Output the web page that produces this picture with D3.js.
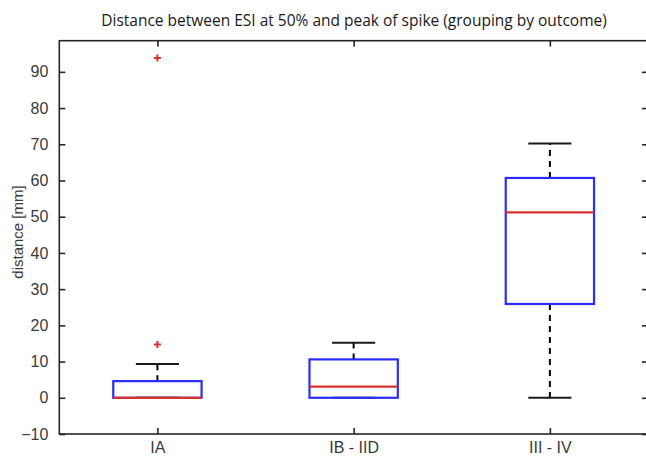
<!DOCTYPE html>
<html><head><meta charset="utf-8">
<script src="https://cdn.jsdelivr.net/npm/d3@7"></script>
<style>body{margin:0;background:#fff}svg{display:block}</style>
</head><body>
<svg id="c" width="646" height="457"></svg>
<script>
const categories = ["IA", "IB - IID", "III - IV"];
const q1 = [0, 0, 25.9];
const medians = [0, 3.1, 51.2];
const q3 = [4.6, 10.6, 60.7];
const whiskerLow = [0, 0, 0];
const whiskerHigh = [9.3, 15.2, 70.2];
const outliers = [[14.7, 93.8], [], []];
const yTicks = [-10, 0, 10, 20, 30, 40, 50, 60, 70, 80, 90];
const title = "Distance between ESI at 50% and peak of spike (grouping by outcome)";
const yLabel = "distance [mm]";

(function () {
const svg = d3.select("#c");
const L = 59.3, R = 648, T = 40.7, B = 434;
const x = d3.scaleLinear().domain([0.5, 3.5]).range([L, R]);
const y = d3.scaleLinear().domain([-10, 98.6]).range([B, T]);
const axisColor = "#262626";
const font = "'Liberation Sans', Arial, sans-serif";

svg.append("rect").attr("x", L).attr("y", T).attr("width", R - L).attr("height", B - T)
  .attr("fill", "none").attr("stroke", axisColor).attr("stroke-width", 1.6);

const catPos = categories.map((c, i) => i + 1);
const ax = svg.append("g");
ax.append("g").attr("transform", `translate(${L},0)`)
  .call(d3.axisLeft(y).tickValues(yTicks).tickSizeInner(-6).tickSizeOuter(0).tickPadding(11));
ax.append("g").attr("transform", `translate(${R},0)`)
  .call(d3.axisRight(y).tickValues(yTicks).tickSizeInner(-6).tickSizeOuter(0).tickFormat(""));
ax.append("g").attr("transform", `translate(0,${B})`)
  .call(d3.axisBottom(x).tickValues(catPos).tickSizeInner(-6).tickSizeOuter(0).tickPadding(8)
    .tickFormat((d, i) => categories[i]));
ax.append("g").attr("transform", `translate(0,${T})`)
  .call(d3.axisTop(x).tickValues(catPos).tickSizeInner(-6).tickSizeOuter(0).tickFormat(""));
ax.selectAll(".domain").remove();
ax.selectAll(".tick line").attr("stroke", axisColor).attr("stroke-width", 1.6);
ax.selectAll(".tick text").attr("fill", "#3a3a3a").style("font-family", font).style("font-size", "16px");

const bw = 0.45, cw = 0.22;
const g = svg.append("g");
categories.forEach((c, i) => {
  const cx = x(i + 1);
  g.append("line").attr("x1", cx).attr("x2", cx).attr("y1", y(q3[i])).attr("y2", y(whiskerHigh[i]))
    .attr("stroke", "#000").attr("stroke-width", 2).attr("stroke-dasharray", "6,5");
  g.append("line").attr("x1", cx).attr("x2", cx).attr("y1", y(q1[i])).attr("y2", y(whiskerLow[i]))
    .attr("stroke", "#000").attr("stroke-width", 2).attr("stroke-dasharray", "6,5");
  [whiskerLow[i], whiskerHigh[i]].forEach(v => {
    g.append("line").attr("x1", x(i + 1 - cw / 2)).attr("x2", x(i + 1 + cw / 2))
      .attr("y1", y(v)).attr("y2", y(v)).attr("stroke", "#1a1a1a").attr("stroke-width", 2);
  });
  g.append("rect").attr("x", x(i + 1 - bw / 2)).attr("width", x(i + 1 + bw / 2) - x(i + 1 - bw / 2))
    .attr("y", y(q3[i])).attr("height", Math.max(y(q1[i]) - y(q3[i]), 0))
    .attr("fill", "none").attr("stroke", "#2b2bff").attr("stroke-width", 2.2);
  g.append("line").attr("x1", x(i + 1 - bw / 2)).attr("x2", x(i + 1 + bw / 2))
    .attr("y1", y(medians[i])).attr("y2", y(medians[i])).attr("stroke", "#d8312a").attr("stroke-width", 2.2);
  outliers[i].forEach(v => {
    const py = y(v);
    g.append("path").attr("d", `M${cx - 3.5},${py}H${cx + 3.5}M${cx},${py - 3.5}V${py + 3.5}`)
      .attr("stroke", "#d8312a").attr("stroke-width", 2);
  });
});

svg.append("text").attr("x", 354).attr("y", 26).attr("text-anchor", "middle")
  .attr("fill", "#1a1a1a").style("font-family", "'Open Sans', sans-serif").style("font-size", "15.5px")
  .text(title);
svg.append("text").attr("transform", `translate(23,232) rotate(-90)`)
  .attr("text-anchor", "middle").attr("fill", "#3a3a3a")
  .style("font-family", font).style("font-size", "15px").text(yLabel);
})();
</script>
</body></html>
